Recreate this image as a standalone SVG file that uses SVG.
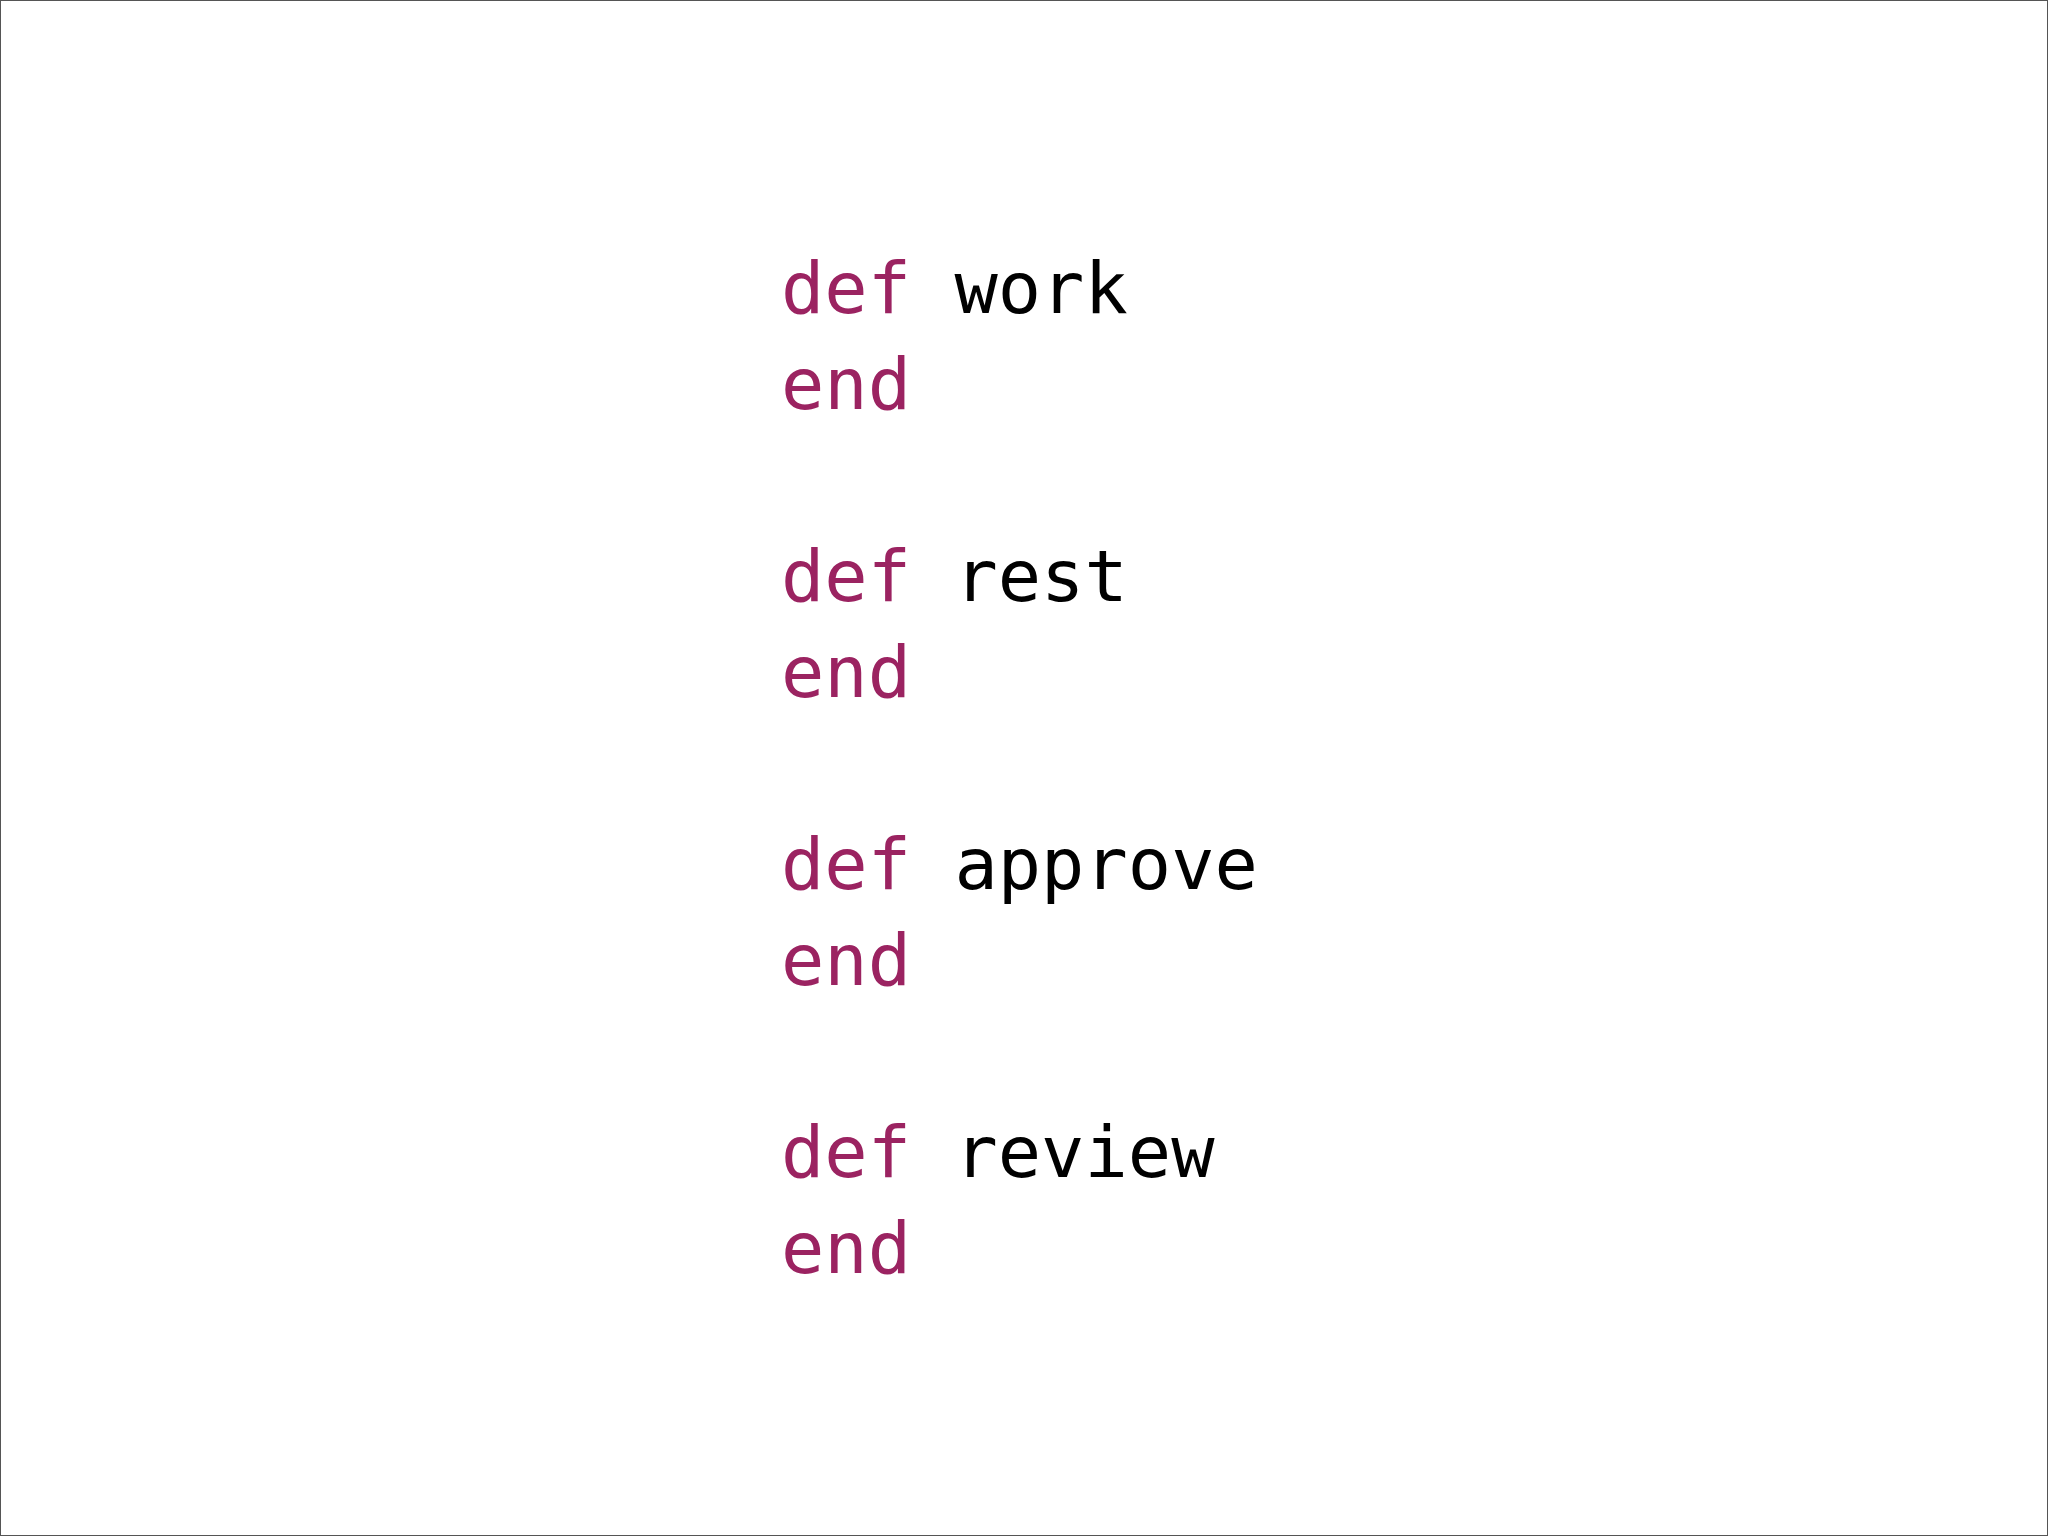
<svg xmlns="http://www.w3.org/2000/svg" width="2048" height="1536" viewBox="0 0 2048 1536">
<style>
text{font-family:"DejaVu Sans Mono","Liberation Mono",monospace;font-size:72px;fill:#000}
.k{fill:#9b2361}
</style>
<rect x="0.5" y="0.5" width="2047" height="1535" fill="#fff" stroke="#555" stroke-width="1"/>
<g id="work"><text x="781" y="313"><tspan class="k">def</tspan> work</text><text x="781" y="409" class="k">end</text></g>
<g id="rest"><text x="781" y="601"><tspan class="k">def</tspan> rest</text><text x="781" y="697" class="k">end</text></g>
<g id="approve"><text x="781" y="889"><tspan class="k">def</tspan> approve</text><text x="781" y="985" class="k">end</text></g>
<g id="review"><text x="781" y="1177"><tspan class="k">def</tspan> review</text><text x="781" y="1273" class="k">end</text></g>
<g id="connectors"/>
</svg>
